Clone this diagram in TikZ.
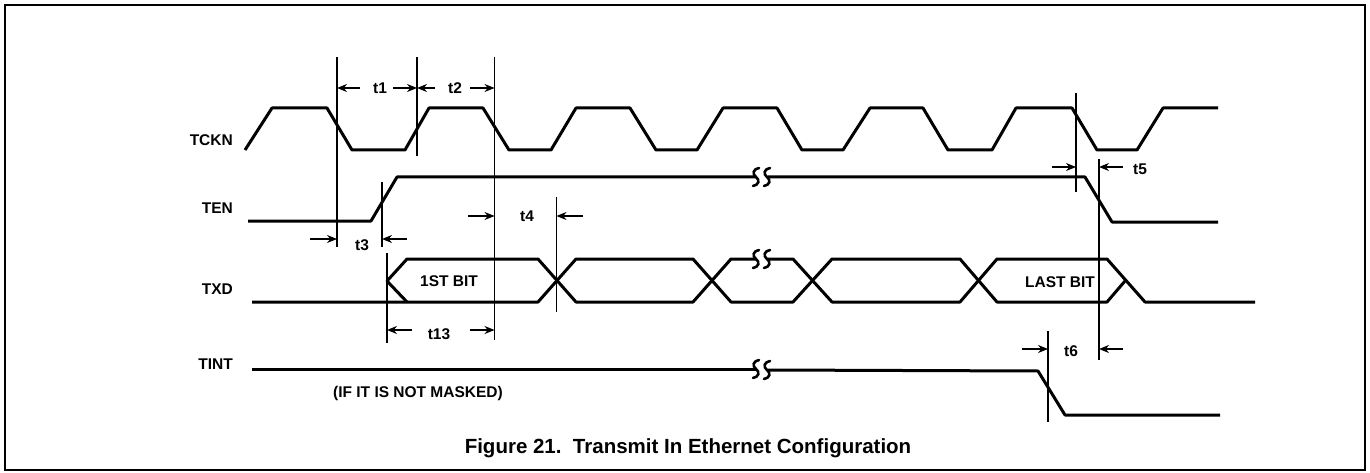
\documentclass[tikz,border=0pt]{standalone}
\usepackage{fontspec}
\setmainfont{Liberation Sans}
\usetikzlibrary{arrows.meta}
\begin{document}
\begin{tikzpicture}[x=1pt,y=-1pt,
  wave/.style={line width=3pt, line join=round},
  tline/.style={line width=1.3pt},
  dimarrow/.style={line width=1.3pt, -{Stealth[length=10pt,width=8pt]}},
  lbl/.style={font=\bfseries\fontsize{15.5}{16}\selectfont, inner sep=0pt},
  sig/.style={lbl, anchor=east},
  brk/.pic={\draw[line width=2.6pt, line cap=round]
      (3,-9) .. controls (-3,-8) and (-4,-3) .. (0,0)
      .. controls (4,3) and (3,8) .. (-3,9);},
]
\useasboundingbox (0,0) rectangle (1370,473);
\draw[line width=2pt] (5,5) rectangle (1365,470);

% signal names
\node[sig] (nTCKN) at (233,140) {TCKN};
\node[sig] (nTEN)  at (233,208) {TEN};
\node[sig] (nTXD)  at (233,289) {TXD};
\node[sig] (nTINT) at (233,364) {TINT};

% TCKN
\draw[wave] (245,150) -- (272,108) -- (327,108) -- (352,150) -- (405,150)
  -- (429,108) -- (483,108) -- (509,150) -- (551,150) -- (576,108)
  -- (630,108) -- (656,150) -- (697,150) -- (723,108) -- (777,108)
  -- (802,150) -- (843,150) -- (870,108) -- (923,108) -- (948,150)
  -- (992,150) -- (1016,108) -- (1072,108) -- (1097,150) -- (1137,150)
  -- (1163,108) -- (1218,108);

% TEN
\draw[wave] (248,221) -- (371,221) -- (397,177) -- (756,177);
\draw[wave] (768,177) -- (1085,177) -- (1112,222) -- (1218,222);
\pic at (756,177) {brk};
\pic at (767,177) {brk};

% TXD
\draw[wave] (252,302) -- (538,302) -- (576,259) -- (693,259) -- (731,302)
  -- (793,302) -- (832,259) -- (960,259) -- (997,302) -- (1107,302) -- (1125,281);
\draw[wave] (407,302) -- (387,281) -- (407,259) -- (538,259) -- (576,302)
  -- (693,302) -- (731,259) -- (756,259);
\draw[wave] (768,259) -- (793,259) -- (832,302) -- (960,302) -- (997,259)
  -- (1107,259) -- (1145,302) -- (1255,302);
\pic at (756,259) {brk};
\pic at (767,259) {brk};
\node[lbl] (first) at (449,281) {1ST BIT};
\node[lbl] (last) at (1060,282) {LAST BIT};

% TINT
\draw[wave] (252,369) -- (756,369);
\draw[wave] (768,370) -- (1038,371) -- (1065,415) -- (1220,415);
\pic at (756,369) {brk};
\pic at (767,370) {brk};
\node[lbl] (mask) at (418,393) {(IF IT IS NOT MASKED)};

% timing reference lines
\coordinate (a1) at (337,57);   \coordinate (a2) at (337,247);
\coordinate (b1) at (417,57);   \coordinate (b2) at (417,156);
\coordinate (c1) at (494.5,57); \coordinate (c2) at (494.5,340);
\coordinate (d1) at (382,182);  \coordinate (d2) at (382,247);
\coordinate (e1) at (556.5,197);\coordinate (e2) at (556.5,312);
\coordinate (f1) at (387,253);  \coordinate (f2) at (387,343);
\coordinate (g1) at (1076,93);  \coordinate (g2) at (1076,192);
\coordinate (h1) at (1099,159); \coordinate (h2) at (1099,360);
\coordinate (k1) at (1048,331); \coordinate (k2) at (1048,422);
\foreach \p in {a,b,c,d,e,f,g,h,k} \draw[tline] (\p1) -- (\p2);

% t1, t2
\node[lbl] (t1) at (380,88) {t1};
\node[lbl] (t2) at (455,88) {t2};
\coordinate (t1l) at (360,88); \coordinate (t1r) at (393,88);
\coordinate (t2l) at (435,88); \coordinate (t2r) at (470,88);
\draw[dimarrow] (t1l) -- (337,88);
\draw[dimarrow] (t1r) -- (417,88);
\draw[dimarrow] (t2l) -- (417,88);
\draw[dimarrow] (t2r) -- (494.5,88);

% t3
\node[lbl] (t3) at (362,245) {t3};
\coordinate (t3l) at (310,239); \coordinate (t3r) at (407,239);
\draw[dimarrow] (t3l) -- (337,239);
\draw[dimarrow] (t3r) -- (382,239);

% t4
\node[lbl] (t4) at (527,216) {t4};
\coordinate (t4l) at (468,216); \coordinate (t4r) at (583,216);
\draw[dimarrow] (t4l) -- (494.5,216);
\draw[dimarrow] (t4r) -- (556.5,216);

% t13
\node[lbl] (t13) at (439,334) {t13};
\coordinate (t13l) at (412,330); \coordinate (t13r) at (470,330);
\draw[dimarrow] (t13l) -- (387,330);
\draw[dimarrow] (t13r) -- (494.5,330);

% t5
\node[lbl] (t5) at (1140,169) {t5};
\coordinate (t5l) at (1052,167); \coordinate (t5r) at (1123,167);
\draw[dimarrow] (t5l) -- (1076,167);
\draw[dimarrow] (t5r) -- (1099,167);

% t6
\node[lbl] (t6) at (1071,351) {t6};
\coordinate (t6l) at (1022,349); \coordinate (t6r) at (1123,349);
\draw[dimarrow] (t6l) -- (1048,349);
\draw[dimarrow] (t6r) -- (1099,349);

% caption
\node[font=\bfseries\fontsize{20.5}{21}\selectfont, inner sep=0pt] (cap) at (688,448)
  {Figure 21.\ \ Transmit In Ethernet Configuration};
\end{tikzpicture}
\end{document}
